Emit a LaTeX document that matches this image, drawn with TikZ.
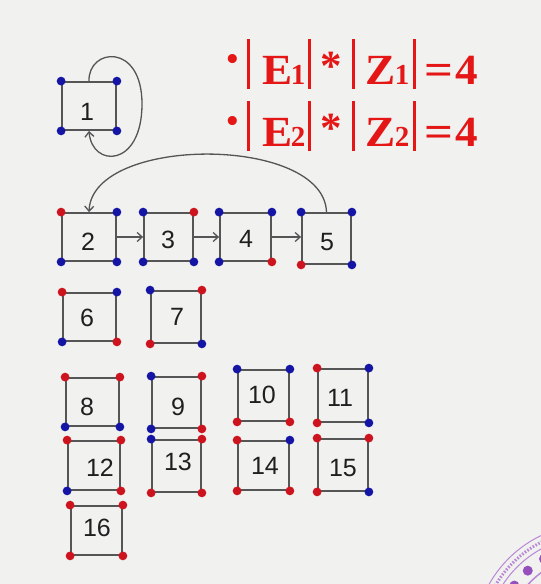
\documentclass[tikz,border=0pt]{standalone}
\usepackage{fontspec}
\setmainfont{Liberation Sans}
\newfontfamily\eqfont{Liberation Serif}
\usetikzlibrary{arrows.meta}
\definecolor{bgc}{RGB}{241,241,239}
\definecolor{dotR}{RGB}{205,20,30}
\definecolor{dotB}{RGB}{20,20,165}
\definecolor{edgec}{RGB}{85,85,85}
\definecolor{eqred}{RGB}{228,22,22}
\definecolor{sealc}{RGB}{185,135,215}
\definecolor{sealdk}{RGB}{150,80,190}
\newcommand\quaddots[5]{%
 \fill[dot#2] (#1.north west) circle (4.4pt);
 \fill[dot#3] (#1.north east) circle (4.4pt);
 \fill[dot#4] (#1.south west) circle (4.4pt);
 \fill[dot#5] (#1.south east) circle (4.4pt);}
\newcommand\eqbar{\rule[-5pt]{3.4pt}{50pt}}
\newcommand\wg[1]{\scalebox{1.05}[1]{#1}}
\newcommand\eqsub[1]{{\fontsize{29}{29}\selectfont #1}}
\newcommand\eqline[2]{%
 \makebox[0pt]{\raisebox{7pt}{\scalebox{1.3}{·}}}\hspace{15pt}%
 \makebox[0pt]{\eqbar}\hspace{29pt}%
 \makebox[0pt]{\wg{E}}\hspace{21pt}%
 \makebox[0pt]{\eqsub{#1}}\hspace{11pt}%
 \makebox[0pt]{\eqbar}\hspace{22pt}%
 \makebox[0pt]{\raisebox{4pt}{*}}\hspace{22pt}%
 \makebox[0pt]{\eqbar}\hspace{27pt}%
 \makebox[0pt]{\wg{Z}}\hspace{22pt}%
 \makebox[0pt]{\eqsub{#2}}\hspace{12pt}%
 \makebox[0pt]{\eqbar}\hspace{25pt}%
 \makebox[0pt]{\scalebox{1.18}[1]{=}}\hspace{28pt}%
 \makebox[0pt]{\wg{4}}}
\tikzset{
 box/.style={draw=edgec, line width=1.8pt, inner sep=0pt, minimum width=50pt, minimum height=49pt},
 lbl/.style={font=\fontsize{25}{25}\selectfont, inner sep=0pt, text=black!88},
 arr/.style={draw=edgec, line width=1.3pt, -{Straight Barb[length=5pt,width=9pt]}},
 eqn/.style={anchor=base west, inner sep=0pt, text=eqred, font=\eqfont\bfseries\fontsize{43}{43}\selectfont}
}
\begin{document}
\begin{tikzpicture}[x=1pt,y=-1pt]
\useasboundingbox (0,0) rectangle (541,584);
\fill[bgc] (0,0) rectangle (541,584);
% seal in the corner
\begin{scope}
\clip (0,0) rectangle (541,584);
\draw[sealc, line width=1pt] (592,642) circle (118pt);
\draw[sealc, line width=3pt, dash pattern=on 1.6pt off 1.6pt] (592,642) circle (112pt);
\draw[sealc, line width=1pt] (592,642) circle (106pt);
\foreach \a in {0,12,...,359} {\fill[sealdk] (592,642) ++(\a:96pt) circle (5pt);}
\draw[sealc, line width=1.5pt] (592,642) circle (86pt);
\end{scope}
% boxes
\node[box,minimum width=54pt,minimum height=48pt] (b1) at (89,106) {};
\node[box,minimum width=54pt,minimum height=48pt] (b2) at (89,237) {};
\node[box,minimum width=49pt,minimum height=48pt] (b3) at (168.5,237) {};
\node[box,minimum width=51pt,minimum height=48pt] (b4) at (245.5,237) {};
\node[box,minimum width=49pt,minimum height=51pt] (b5) at (326.5,238.5) {};
\node[box,minimum width=53pt,minimum height=48pt] (b6) at (89.5,317) {};
\node[box,minimum width=50pt,minimum height=52pt] (b7) at (176,317) {};
\node[box,minimum width=53pt,minimum height=48pt] (b8) at (92.5,402) {};
\node[box,minimum width=49pt,minimum height=51pt] (b9) at (176.5,402.5) {};
\node[box,minimum width=51pt,minimum height=51pt] (b10) at (263.5,395.5) {};
\node[box,minimum width=50pt,minimum height=53pt] (b11) at (343,395.5) {};
\node[box,minimum width=52pt,minimum height=49pt] (b12) at (94,465.5) {};
\node[box,minimum width=49pt,minimum height=52pt] (b13) at (176.5,466) {};
\node[box,minimum width=51pt,minimum height=49pt] (b14) at (263.5,465.5) {};
\node[box,minimum width=50pt,minimum height=52pt] (b15) at (343,465) {};
\node[box,minimum width=51pt,minimum height=49pt] (b16) at (96.5,530.5) {};
% labels
\node[lbl] (t1) at (87,112) {1};
\node[lbl] (t2) at (88,242) {2};
\node[lbl] (t3) at (168,240) {3};
\node[lbl] (t4) at (246,239) {4};
\node[lbl] (t5) at (327,242) {5};
\node[lbl] (t6) at (87,318) {6};
\node[lbl] (t7) at (177,317) {7};
\node[lbl] (t8) at (87,407) {8};
\node[lbl] (t9) at (178,407) {9};
\node[lbl] (t10) at (262,395) {10};
\node[lbl] (t11) at (340,398) {11};
\node[lbl] (t12) at (100,468) {12};
\node[lbl] (t13) at (178,462) {13};
\node[lbl] (t14) at (265,466) {14};
\node[lbl] (t15) at (343,468) {15};
\node[lbl] (t16) at (97,528) {16};
% connectors
\draw[arr] (b1.north) .. controls (88,48) and (142,42) .. (142,104) .. controls (142,168) and (92,168) .. (b1.south);
\draw[arr] (b5.north) .. controls (324,135) and (92,135) .. (b2.north);
\draw[arr] (b2.east) -- (b2.east -| b3.west);
\draw[arr] (b3.east) -- (b3.east -| b4.west);
\draw[arr] (b4.east) -- (b4.east -| b5.west);
% corner dots
\quaddots{b1}{B}{B}{B}{B}
\quaddots{b2}{R}{B}{B}{B}
\quaddots{b3}{B}{R}{B}{B}
\quaddots{b4}{B}{B}{B}{R}
\quaddots{b5}{B}{B}{R}{B}
\quaddots{b6}{R}{B}{B}{R}
\quaddots{b7}{B}{R}{R}{B}
\quaddots{b8}{R}{R}{B}{B}
\quaddots{b9}{B}{R}{B}{R}
\quaddots{b10}{B}{B}{R}{R}
\quaddots{b11}{R}{B}{R}{B}
\quaddots{b12}{R}{R}{B}{R}
\quaddots{b13}{B}{R}{R}{R}
\quaddots{b14}{R}{B}{R}{R}
\quaddots{b15}{R}{R}{R}{B}
\quaddots{b16}{R}{R}{R}{R}
% equations
\node[eqn] (eq1) at (233,84) {\eqline{1}{1}};
\node[eqn] (eq2) at (233,146) {\eqline{2}{2}};
\end{tikzpicture}
\end{document}
